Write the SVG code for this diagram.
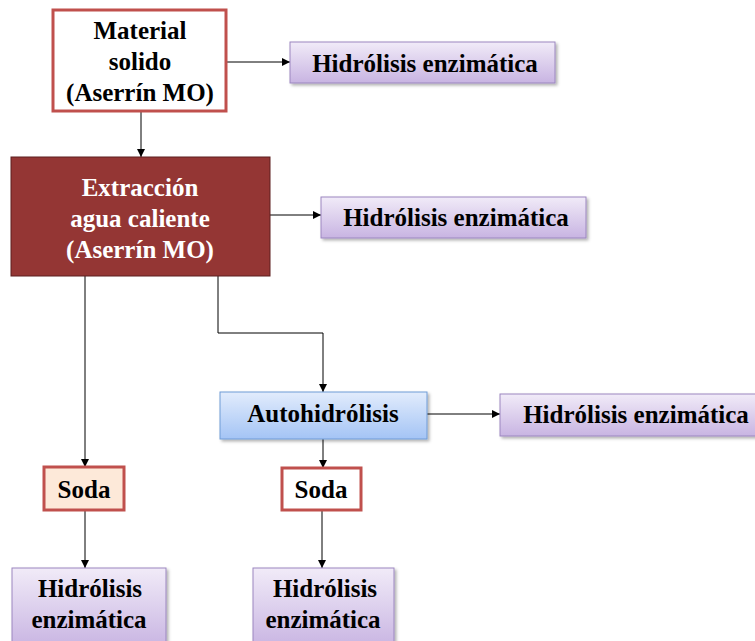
<svg xmlns="http://www.w3.org/2000/svg" width="755" height="641" viewBox="0 0 755 641">
  <defs>
    <linearGradient id="gPurple" x1="0" y1="0" x2="0" y2="1">
      <stop offset="0" stop-color="#f1ebf8"/>
      <stop offset="1" stop-color="#c8b4e2"/>
    </linearGradient>
    <linearGradient id="gBlue" x1="0" y1="0" x2="0" y2="1">
      <stop offset="0" stop-color="#e2ecfc"/>
      <stop offset="1" stop-color="#a4c4f5"/>
    </linearGradient>
    <filter id="shadow" x="-5%" y="-10%" width="115%" height="130%">
      <feDropShadow dx="2" dy="2" stdDeviation="1.5" flood-color="#000" flood-opacity="0.3"/>
    </filter>
    <marker id="arrow" viewBox="0 0 10 10" refX="10" refY="5" markerWidth="8" markerHeight="8" markerUnits="userSpaceOnUse" orient="auto">
      <path d="M0,0 L10,5 L0,10 Z" fill="#000"/>
    </marker>
  </defs>
  <style>
    text { font-family: "Liberation Serif", "Times New Roman", serif; font-weight: bold; font-size: 25px; fill: #000; text-anchor: middle; }
    .light { fill: #fff; }
    .redbox { fill: #fff; stroke: #c0504d; stroke-width: 3; }
    .peach { fill: #fde9d9; stroke: #c0504d; stroke-width: 3; }
    .dark { fill: #943634; stroke: #5c1f1e; stroke-width: 1; }
    .purple { fill: url(#gPurple); stroke: #9b86bf; stroke-width: 1; filter: url(#shadow); }
    .blue { fill: url(#gBlue); stroke: #6f9bd6; stroke-width: 1; filter: url(#shadow); }
    .link { fill: none; stroke: #000; stroke-width: 1; marker-end: url(#arrow); }
  </style>

  <g id="connectors">
    <path class="link" d="M226,62 H290"/>
    <path class="link" d="M141,111 V157"/>
    <path class="link" d="M270,215 H321"/>
    <path class="link" d="M85,276 V467"/>
    <path class="link" d="M218,276 V333 H323 V392"/>
    <path class="link" d="M427,414 H500"/>
    <path class="link" d="M323,439 V468"/>
    <path class="link" d="M85,510 V568"/>
    <path class="link" d="M322,510 V568"/>
  </g>

  <g id="material-solido">
    <rect class="redbox" x="53" y="10" width="173" height="101"/>
    <text x="140" y="39">Material</text>
    <text x="140" y="70">solido</text>
    <text x="140" y="101">(Aserrín MO)</text>
  </g>

  <g id="hidrolisis-1">
    <rect class="purple" x="290" y="42" width="265" height="41"/>
    <text x="425" y="72">Hidrólisis enzimática</text>
  </g>

  <g id="extraccion">
    <rect class="dark" x="11" y="157" width="259" height="119"/>
    <text class="light" x="140" y="196">Extracción</text>
    <text class="light" x="140" y="227">agua caliente</text>
    <text class="light" x="140" y="258">(Aserrín MO)</text>
  </g>

  <g id="hidrolisis-2">
    <rect class="purple" x="321" y="197" width="265" height="41"/>
    <text x="456" y="226">Hidrólisis enzimática</text>
  </g>

  <g id="autohidrolisis">
    <rect class="blue" x="220" y="392" width="207" height="47"/>
    <text x="323" y="422">Autohidrólisis</text>
  </g>

  <g id="hidrolisis-3">
    <rect class="purple" x="500" y="394" width="265" height="42"/>
    <text x="636" y="423">Hidrólisis enzimática</text>
  </g>

  <g id="soda-1">
    <rect class="peach" x="44" y="467" width="80" height="43"/>
    <text x="84" y="498">Soda</text>
  </g>

  <g id="soda-2">
    <rect class="redbox" x="282" y="468" width="79" height="42"/>
    <text x="321" y="498">Soda</text>
  </g>

  <g id="hidrolisis-4">
    <rect class="purple" x="12" y="568" width="154" height="80"/>
    <text x="90" y="597">Hidrólisis</text>
    <text x="89" y="628">enzimática</text>
  </g>

  <g id="hidrolisis-5">
    <rect class="purple" x="253" y="568" width="141" height="80"/>
    <text x="325" y="597">Hidrólisis</text>
    <text x="323" y="628">enzimática</text>
  </g>
</svg>
